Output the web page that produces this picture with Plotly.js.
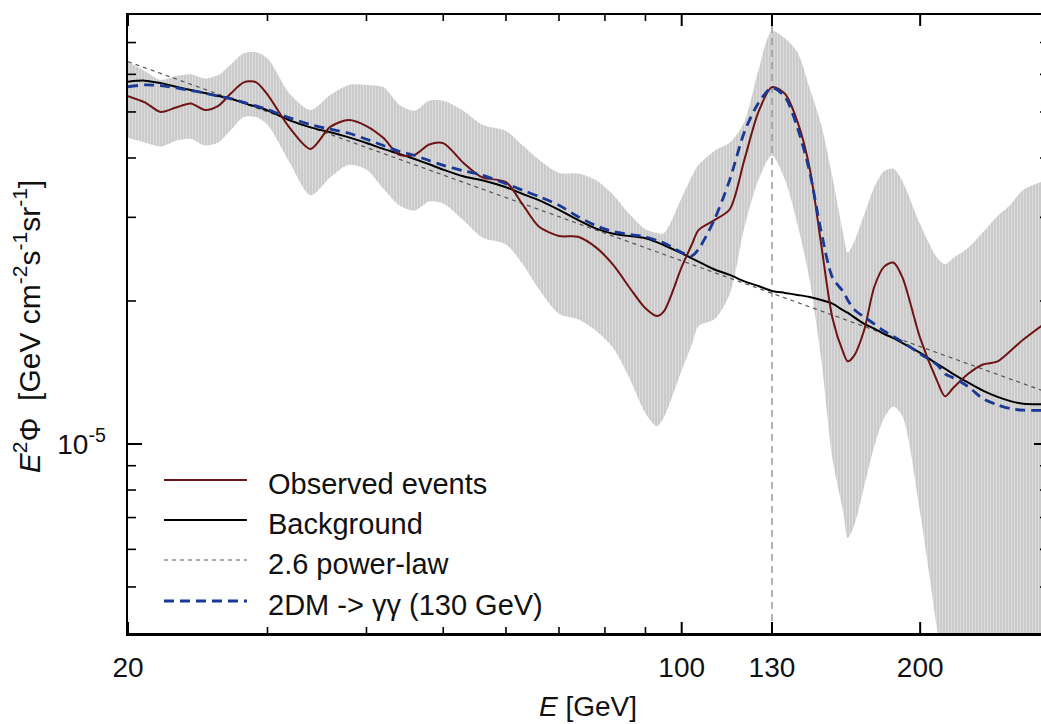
<!DOCTYPE html>
<html>
<head>
<meta charset="utf-8">
<script src="https://cdn.plot.ly/plotly-3.0.1.min.js"></script>
<style>
  html, body { margin: 0; padding: 0; overflow: hidden; background: #fff; }
  #chart { width: 1049px; height: 724px; }
</style>
</head>
<body>
<div id="chart"></div>
<script>
// ---- data (flux values in units of 1e-5 GeV cm^-2 s^-1 sr^-1) ----
const fluxUnit = 1e-5;
const energy = [20,21,22,23,24,25,26,27,28,29,30,32,34,36,38,40,42,44,46,48,50,53,56,60,63,66,70,74,78,82,86,90,93,95,100,103,105,110,115,120,125,130,135,140,145,150,155,160,162,165,170,175,180,185,190,200,210,215,220,230,240,250,260,270,290];
const observed = [5.40,5.24,5.00,5.11,5.21,5.05,5.15,5.48,5.77,5.78,5.44,4.63,4.18,4.65,4.81,4.67,4.41,4.06,4.06,4.27,4.30,3.91,3.64,3.56,3.19,2.87,2.74,2.73,2.59,2.38,2.13,1.93,1.86,1.905,2.36,2.63,2.82,2.96,3.12,3.97,5.00,5.64,5.46,4.77,3.82,2.63,1.84,1.555,1.493,1.533,1.74,2.14,2.36,2.41,2.24,1.67,1.36,1.26,1.31,1.405,1.47,1.49,1.57,1.66,1.815];
const background = [5.79,5.82,5.75,5.65,5.56,5.48,5.40,5.33,5.22,5.13,5.04,4.80,4.64,4.53,4.42,4.30,4.18,4.08,3.98,3.88,3.78,3.66,3.59,3.47,3.36,3.26,3.11,2.96,2.84,2.77,2.74,2.71,2.66,2.62,2.52,2.46,2.42,2.33,2.27,2.20,2.15,2.10,2.08,2.06,2.04,2.01,1.975,1.91,1.89,1.85,1.79,1.75,1.705,1.67,1.63,1.555,1.475,1.44,1.405,1.346,1.295,1.258,1.231,1.215,1.213];
const darkMatter = [5.65,5.70,5.68,5.62,5.55,5.48,5.40,5.33,5.24,5.15,5.06,4.86,4.70,4.60,4.51,4.38,4.25,4.13,4.05,3.95,3.86,3.76,3.68,3.53,3.42,3.32,3.18,3.01,2.88,2.80,2.76,2.73,2.68,2.65,2.53,2.49,2.57,2.97,3.60,4.54,5.22,5.62,5.38,4.63,3.75,2.80,2.24,2.09,2.01,1.92,1.85,1.79,1.73,1.685,1.64,1.548,1.468,1.405,1.379,1.320,1.246,1.210,1.187,1.178,1.178];
const bandUpper = [6.38,6.10,5.84,5.95,6.00,5.88,5.98,6.31,6.65,6.68,6.49,5.46,5.05,5.43,5.70,5.70,5.64,5.18,5.03,5.28,5.28,5.03,4.70,4.56,4.25,3.97,3.72,3.71,3.59,3.34,3.04,2.83,2.78,2.78,3.30,3.66,3.87,4.14,4.31,4.77,6.13,7.40,7.15,6.68,5.62,4.70,3.64,2.76,2.53,2.66,3.04,3.47,3.75,3.80,3.57,2.90,2.47,2.39,2.46,2.59,2.79,3.01,3.19,3.43,3.60];
const bandLower = [4.41,4.31,4.23,4.35,4.39,4.25,4.31,4.59,4.88,4.88,4.70,3.91,3.34,3.64,3.87,3.78,3.45,3.18,3.10,3.24,3.21,2.96,2.72,2.63,2.39,2.12,1.88,1.83,1.73,1.59,1.37,1.16,1.09,1.14,1.43,1.62,1.77,1.83,2.07,2.86,3.60,4.05,3.60,2.90,2.22,1.51,0.93,0.715,0.634,0.672,0.815,0.988,1.131,1.199,1.142,0.715,0.41,0.32,0.27,0.20,0.18,0.16,0.15,0.14,0.13];
const powerLawE = [20, 290];
const powerLawFlux = [6.38, 1.283];
const lineEnergy = [130, 130];
const yRange = [4e-6, 8e-5];
const xRange = [20, 290];
const xTickVals = [20, 100, 130, 200];
const xTickText = ['20', '100', '130', '200'];
const xMinorVals = [30, 40, 50, 60, 70, 80, 90];
const yTickVals = [1e-5];
const yTickText = ['10<sup>-5</sup>'];
const yMinorVals = [5e-6, 6e-6, 7e-6, 8e-6, 9e-6, 2e-5, 3e-5, 4e-5, 5e-5, 6e-5, 7e-5];
const legendLabels = ['Observed events', 'Background', '2.6 power-law', '2DM -> γγ (130 GeV)'];

// ---- styling ----
const FONT = 'Liberation Sans, Arial, Helvetica, sans-serif';
const colObs = '#6e1414';
const colBg = '#000000';
const colPL = '#555555';
const colDM = '#1a3896';
const scale = v => v.map(x => x * fluxUnit);

const traces = [
  { x: energy, y: scale(bandUpper), mode: 'lines', line: { width: 0, shape: 'spline', smoothing: 0.8 }, hoverinfo: 'skip', showlegend: false },
  { x: energy, y: scale(bandLower), mode: 'lines', line: { width: 0, shape: 'spline', smoothing: 0.8 }, fill: 'tonexty',
    fillcolor: '#cbcbcb',
    fillpattern: { shape: '|', size: 3, solidity: 0.3, fgcolor: '#dcdcdc', bgcolor: '#cbcbcb' },
    hoverinfo: 'skip', showlegend: false },
  { x: lineEnergy, y: yRange, mode: 'lines', line: { color: '#9a9a9a', width: 1.5, dash: '7px,5px' }, showlegend: false },
  { x: powerLawE, y: scale(powerLawFlux), mode: 'lines', line: { color: colPL, width: 1.2, dash: '4px,4px' }, showlegend: false },
  { x: energy, y: scale(background), mode: 'lines', line: { color: colBg, width: 2, shape: 'spline', smoothing: 0.8 }, showlegend: false },
  { x: energy, y: scale(observed), mode: 'lines', line: { color: colObs, width: 2, shape: 'spline', smoothing: 0.8 }, showlegend: false },
  { x: energy, y: scale(darkMatter), mode: 'lines', line: { color: colDM, width: 2.8, dash: '10px,6px', shape: 'spline', smoothing: 0.8 }, showlegend: false }
];

// ---- tick marks (inside, on all four sides), positioned via the log scale of each axis ----
const lx0 = Math.log10(xRange[0]), lx1 = Math.log10(xRange[1]);
const ly0 = Math.log10(yRange[0]), ly1 = Math.log10(yRange[1]);
const fx = v => (Math.log10(v) - lx0) / (lx1 - lx0);
const fy = v => (Math.log10(v) - ly0) / (ly1 - ly0);
const shapes = [];
function xTick(v, len, w) {
  const f = fx(v);
  shapes.push({ type: 'line', xref: 'paper', yref: 'paper', ysizemode: 'pixel', yanchor: 0, x0: f, x1: f, y0: 0, y1: len, line: { color: '#000', width: w } });
  shapes.push({ type: 'line', xref: 'paper', yref: 'paper', ysizemode: 'pixel', yanchor: 1, x0: f, x1: f, y0: 0, y1: -len, line: { color: '#000', width: w } });
}
function yTick(v, len, w) {
  const f = fy(v);
  shapes.push({ type: 'line', xref: 'paper', yref: 'paper', xsizemode: 'pixel', xanchor: 0, x0: 0, x1: len, y0: f, y1: f, line: { color: '#000', width: w } });
  shapes.push({ type: 'line', xref: 'paper', yref: 'paper', xsizemode: 'pixel', xanchor: 1, x0: 0, x1: -len, y0: f, y1: f, line: { color: '#000', width: w } });
}
xTickVals.forEach(v => xTick(v, 11, 2));
xMinorVals.forEach(v => xTick(v, 6, 1.6));
yTickVals.forEach(v => yTick(v, 14, 2));
yMinorVals.forEach(v => yTick(v, 8, 1.6));

// ---- custom legend (paper coordinates) ----
const legY = [0.2476, 0.1828, 0.1181, 0.0518];
const legStyles = [
  { color: colObs, width: 2, dash: 'solid' },
  { color: colBg, width: 2, dash: 'solid' },
  { color: colPL, width: 1.2, dash: '4px,4px' },
  { color: colDM, width: 2.8, dash: '10px,6px' }
];
legStyles.forEach((s, i) => shapes.push({
  type: 'line', xref: 'paper', yref: 'paper', x0: 0.0391, x1: 0.1293, y0: legY[i], y1: legY[i], line: s
}));
const annotations = legendLabels.map((t, i) => ({
  xref: 'paper', yref: 'paper', x: 0.150, y: legY[i] - 0.006, xanchor: 'left', yanchor: 'middle',
  text: t, showarrow: false, font: { family: FONT, size: 29, color: '#111' }
}));
annotations.push({
  xref: 'paper', yref: 'paper', x: 0.5, y: -0.119, xanchor: 'center', yanchor: 'middle',
  text: '<i>E</i> [GeV]', showarrow: false, font: { family: FONT, size: 28, color: '#111' }
});
annotations.push({
  xref: 'paper', yref: 'paper', x: -0.109, y: 0.496, xanchor: 'center', yanchor: 'middle', textangle: -90,
  text: '<i>E</i><sup>2</sup>Φ&nbsp;&nbsp;[GeV cm<sup>-2</sup>s<sup>-1</sup>sr<sup>-1</sup>]', showarrow: false,
  font: { family: FONT, size: 30, color: '#111' }
});

const layout = {
  width: 1049, height: 724,
  margin: { l: 128, r: 1, t: 15, b: 91 },
  paper_bgcolor: '#ffffff', plot_bgcolor: '#ffffff',
  showlegend: false,
  font: { family: FONT, size: 28, color: '#111' },
  xaxis: {
    type: 'log', range: [lx0, lx1],
    showline: true, linecolor: '#000', linewidth: 2.5, mirror: true, showgrid: false, zeroline: false,
    ticks: '', tickmode: 'array', tickvals: xTickVals, ticktext: xTickText,
    tickfont: { family: FONT, size: 28, color: '#111' },
    ticklabelstandoff: 8
  },
  yaxis: {
    type: 'log', range: [ly0, ly1],
    showline: true, linecolor: '#000', linewidth: 2.5, mirror: true, showgrid: false, zeroline: false,
    ticks: '', tickmode: 'array', tickvals: yTickVals, ticktext: yTickText,
    tickfont: { family: FONT, size: 28, color: '#111' },
    ticklabelstandoff: 14
  },
  shapes: shapes,
  annotations: annotations
};

Plotly.newPlot('chart', traces, layout, { staticPlot: true, displayModeBar: false });
</script>
</body>
</html>
